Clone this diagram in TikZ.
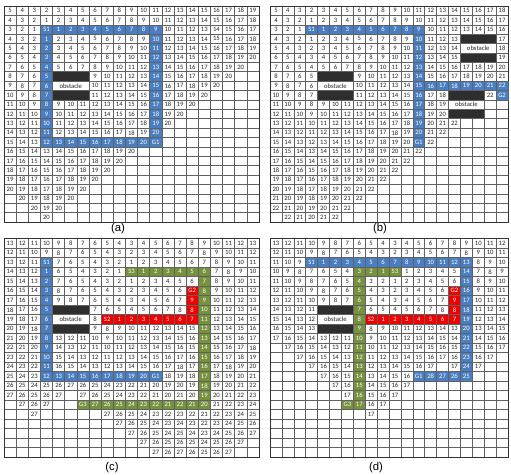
\documentclass[tikz,border=0pt]{standalone}
\usepackage{fontspec}
\setmainfont{Carlito}
\newfontfamily\labfont{Liberation Sans}
\definecolor{cblue}{HTML}{4A7EC2}
\definecolor{cred}{HTML}{F20000}
\definecolor{cgreen}{HTML}{76923C}
\definecolor{cobs}{HTML}{2E2E2E}
\def\dashmark{-}
\newif\ifskipcell
\tikzset{
  gl/.style={draw=black!62, line width=0.4pt},
  gborder/.style={draw=black!80, line width=0.6pt},
  num/.style={inner sep=0pt, font=\fontsize{5}{5}\selectfont, text=black!85},
  pnum/.style={inner sep=0pt, font=\fontsize{5}{5}\selectfont, text=white},
  bluecell/.style={fill=cblue, draw=black!62, line width=0.4pt},
  redcell/.style={fill=cred, draw=black!62, line width=0.4pt},
  greencell/.style={fill=cgreen, draw=black!62, line width=0.4pt},
  obsbar/.style={fill=cobs, draw=black!62, line width=0.4pt},
  obsmid/.style={fill=white, draw=black!62, line width=0.4pt},
  sublabel/.style={font=\labfont\fontsize{8.5}{9}\selectfont, inner sep=0pt},
}
% grid lines: x0,y0,w,h,ncols,nrows
\newcommand\gridlines[6]{%
  \foreach \i in {0,...,#5} \draw[gl] ({#1+\i*#3},#2) -- ({#1+\i*#3},{#2+#6*#4});
  \foreach \j in {0,...,#6} \draw[gl] (#1,{#2+\j*#4}) -- ({#1+#5*#3},{#2+\j*#4});
  \draw[gborder] (#1,#2) rectangle ({#1+#5*#3},{#2+#6*#4});
}
% data grid: prefix, rows
\newcommand\datagrid[2]{%
  \foreach \rowdata [count=\r] in {#2} {
    \foreach \v [count=\c] in \rowdata {
      \edef\tmpv{\v}%
      \ifx\tmpv\dashmark\else
        \node[num] (#1-\r-\c) at ({\GX+(\c-0.5)*\GW},{\GY+(\r-0.5)*\GH}) {\v};
      \fi
    }
  }
}
% manhattan grid from (3,4): prefix, ncols, nrows, cap, skip rectangles r1/r2/c1/c2
\newcommand\mgrid[5]{%
  \foreach \r in {1,...,#3} {
    \foreach \c in {1,...,#2} {
      \global\skipcellfalse
      \foreach \ra/\rb/\ca/\cb in {#5} {%
        \ifnum\r<\ra\else\ifnum\r>\rb\else\ifnum\c<\ca\else\ifnum\c>\cb\else\global\skipcelltrue\fi\fi\fi\fi
      }%
      \pgfmathtruncatemacro\mval{abs(\r-3)+abs(\c-4)}
      \ifskipcell\else
      \ifnum\mval>#4\relax\else
        \node[num] (#1-\r-\c) at ({\GX+(\c-0.5)*\GW},{\GY+(\r-0.5)*\GH}) {\mval};
      \fi\fi
    }
  }
}
% coloured path cells: prefix, style, list r/c/label
\newcommand\pcells[3]{%
  \foreach \r/\c/\lab in {#3} {
    \filldraw[#2] ({\GX+(\c-1)*\GW},{\GY+(\r-1)*\GH}) rectangle ({\GX+\c*\GW},{\GY+\r*\GH});
    \node[pnum] (#1-\r-\c) at ({\GX+(\c-0.5)*\GW},{\GY+(\r-0.5)*\GH}) {\lab};
  }
}
% obstacle 3x3: name, top row, left col
\newcommand\obst[3]{%
  \filldraw[obsbar] ({\GX+(#3-1)*\GW},{\GY+(#2-1)*\GH}) rectangle ({\GX+(#3+2)*\GW},{\GY+(#2)*\GH});
  \filldraw[obsmid] ({\GX+(#3-1)*\GW},{\GY+(#2)*\GH}) rectangle ({\GX+(#3+2)*\GW},{\GY+(#2+1)*\GH});
  \filldraw[obsbar] ({\GX+(#3-1)*\GW},{\GY+(#2+1)*\GH}) rectangle ({\GX+(#3+2)*\GW},{\GY+(#2+2)*\GH});
  \node[num] (#1) at ({\GX+(#3+0.5)*\GW},{\GY+(#2+0.5)*\GH}) {obstacle};
}
\begin{document}
\begin{tikzpicture}[x=0.75pt,y=-0.75pt]
\fill[white] (0,0) rectangle (511,475);
\useasboundingbox (0,0) rectangle (511,475);

% ================= (a)
\def\GX{4}\def\GY{6}\def\GW{12.14}\def\GH{9.39}
\gridlines{\GX}{\GY}{\GW}{\GH}{21}{23}
\mgrid{a}{21}{23}{20}{8/10/5/7,3/3/4/13,4/15/13/13,4/15/4/4,15/15/5/12}
\pcells{ap}{bluecell}{3/4/S1,3/5/1,3/6/2,3/7/3,3/8/4,3/9/5,3/10/6,3/11/7,3/12/8,3/13/9,
 4/13/10,5/13/11,6/13/12,7/13/13,8/13/14,9/13/15,10/13/16,11/13/17,12/13/18,13/13/19,14/13/20,15/13/G1,
 4/4/1,5/4/2,6/4/3,7/4/4,8/4/5,9/4/6,10/4/7,11/4/8,12/4/9,13/4/10,14/4/11,15/4/12,
 15/5/13,15/6/14,15/7/15,15/8/16,15/9/17,15/10/18,15/11/19,15/12/20}
\obst{aobs}{8}{5}
\node[sublabel] (la) at (118,229) {(a)};

% ================= (b)
\def\GX{270}\def\GY{6}\def\GW{11.9}\def\GH{9.39}
\gridlines{\GX}{\GY}{\GW}{\GH}{20}{23}
\mgrid{b}{20}{23}{22}{8/10/5/7,4/6/17/19,10/12/16/18,3/3/4/13,4/15/13/13,9/9/14/20,10/10/20/20}
\pcells{bp}{bluecell}{3/4/S1,3/5/1,3/6/2,3/7/3,3/8/4,3/9/5,3/10/6,3/11/7,3/12/8,3/13/9,
 4/13/10,5/13/11,6/13/12,7/13/13,8/13/14,9/13/15,10/13/16,11/13/17,12/13/18,13/13/19,14/13/20,15/13/G1,
 9/14/16,9/15/17,9/16/18,9/17/19,9/18/20,9/19/21,9/20/22,10/20/G2}
\obst{bobs1}{8}{5}
\obst{bobs2}{4}{17}
\obst{bobs3}{10}{16}
\node[sublabel] (lb) at (380,229) {(b)};

% ================= (c)
\def\GX{4}\def\GY{238.5}\def\GW{12.14}\def\GH{9.5}
\gridlines{\GX}{\GY}{\GW}{\GH}{21}{23}
\datagrid{c}{
{13,12,11,10,9,8,7,6,5,4,3,4,5,6,7,8,9,10,11,12,13},
{12,11,10,9,8,7,6,5,4,3,2,3,4,5,6,7,8,9,10,11,12},
{13,12,11,-,7,6,5,4,3,2,1,2,3,4,5,6,7,8,9,10,11},
{14,13,12,-,6,5,4,3,2,1,-,-,-,-,-,-,-,7,8,9,10},
{15,14,13,-,7,6,5,4,3,2,1,2,3,4,5,6,-,8,9,10,11},
{16,15,14,-,8,7,6,5,4,3,2,3,4,5,6,-,-,9,10,11,12},
{17,16,15,-,9,8,7,6,5,4,3,4,5,6,7,-,-,10,11,12,13},
{18,17,16,-,-,-,-,7,6,5,4,5,6,7,8,-,-,11,12,13,14},
{19,18,17,-,-,-,-,8,-,-,-,-,-,-,-,-,-,12,13,14,15},
{20,19,18,-,-,-,-,9,8,9,10,11,12,13,14,15,-,13,14,15,16},
{21,20,19,-,13,12,11,10,9,10,11,12,13,14,15,16,-,14,15,16,17},
{22,21,20,-,14,13,12,11,10,11,12,13,14,15,16,15,-,15,16,17,18},
{23,22,21,-,15,14,13,12,11,12,13,14,15,16,17,16,-,16,17,18,19},
{24,23,22,-,16,15,14,13,12,13,14,15,16,17,18,17,-,17,18,19,20},
{25,24,23,-,-,-,-,-,-,-,-,-,-,18,19,18,-,18,19,20,21},
{26,25,24,25,26,27,26,25,24,23,22,21,20,19,20,19,-,19,20,21,22},
{27,26,25,26,27,-,27,26,25,24,23,22,21,20,21,20,-,20,21,22,23},
{-,27,26,27,-,-,-,-,-,-,-,-,-,-,-,-,-,21,22,23,24},
{-,-,27,-,-,-,-,-,27,26,25,24,23,22,23,22,21,22,23,24,25},
{-,-,-,-,-,-,-,-,-,27,26,25,24,23,24,23,22,23,24,25,26},
{-,-,-,-,-,-,-,-,-,-,27,26,25,24,25,24,23,24,25,26,27},
{-,-,-,-,-,-,-,-,-,-,-,27,26,25,26,25,24,25,26,27,-},
{-,-,-,-,-,-,-,-,-,-,-,-,27,26,27,26,25,26,27,-,-}}
\pcells{cpb}{bluecell}{3/4/S1,4/4/1,5/4/2,6/4/3,7/4/4,8/4/5,9/4/6,10/4/7,11/4/8,12/4/9,13/4/10,14/4/11,15/4/12,
 15/5/13,15/6/14,15/7/15,15/8/16,15/9/17,15/10/18,15/11/19,15/12/20,15/13/G1}
\pcells{cpr}{redcell}{9/9/S2,9/10/1,9/11/2,9/12/3,9/13/4,9/14/5,9/15/6,9/16/7,8/16/8,7/16/9,6/16/G2}
\pcells{cpg}{greencell}{4/11/S3,4/12/1,4/13/2,4/14/3,4/15/4,4/16/5,4/17/6,
 5/17/7,6/17/8,7/17/9,8/17/10,9/17/11,10/17/12,11/17/13,12/17/14,13/17/15,14/17/16,15/17/17,16/17/18,17/17/19,18/17/20,
 18/16/21,18/15/22,18/14/21,18/13/22,18/12/23,18/11/24,18/10/25,18/9/26,18/8/27,18/7/G3}
\obst{cobs1}{8}{5}
\node[sublabel] (lc) at (112,468) {(c)};

% ================= (d)
\def\GX{270}\def\GY{238.5}\def\GW{11.9}\def\GH{9.5}
\gridlines{\GX}{\GY}{\GW}{\GH}{20}{23}
\datagrid{d}{
{13,12,11,10,9,8,7,6,5,4,3,4,5,6,7,8,9,10,11,12},
{12,11,10,9,8,7,6,5,4,3,2,3,4,5,6,7,8,9,10,11},
{11,10,9,-,-,-,-,-,-,-,-,-,-,-,-,-,-,8,9,10},
{10,9,8,7,6,5,4,-,-,-,-,1,2,3,4,5,-,7,8,9},
{11,10,9,8,7,6,5,-,3,2,1,2,3,4,5,6,-,8,9,10},
{12,11,10,9,8,7,6,-,4,3,2,3,4,5,6,-,-,9,10,11},
{13,12,11,10,9,8,7,-,5,4,3,4,5,6,7,-,-,10,11,12},
{14,13,12,11,-,-,-,-,6,5,4,5,6,7,8,-,-,11,12,13},
{15,14,13,12,-,-,-,-,-,-,-,-,-,-,-,-,-,12,13,14},
{16,15,14,13,-,-,-,-,8,9,10,11,12,13,14,13,-,13,14,15},
{17,16,15,14,13,12,11,-,9,10,11,12,13,14,15,14,-,14,15,16},
{-,17,16,15,14,13,12,-,10,11,12,13,14,15,16,15,-,15,16,17},
{-,-,17,16,15,14,13,-,11,12,13,14,15,16,17,16,-,16,17,-},
{-,-,-,17,16,15,14,-,12,13,14,15,16,17,-,17,-,17,-,-},
{-,-,-,-,17,16,15,-,13,14,15,16,-,-,-,-,-,-,-,-},
{-,-,-,-,-,17,16,-,14,15,16,17,-,-,-,-,-,-,-,-},
{-,-,-,-,-,-,17,-,15,16,17,-,-,-,-,-,-,-,-,-},
{-,-,-,-,-,-,-,-,16,17,-,-,-,-,-,-,-,-,-,-},
{-,-,-,-,-,-,-,-,17,-,-,-,-,-,-,-,-,-,-,-}}
\pcells{dpb}{bluecell}{3/4/S1,3/5/1,3/6/2,3/7/3,3/8/4,3/9/5,3/10/6,3/11/7,3/12/8,3/13/9,3/14/10,3/15/11,3/16/12,3/17/13,
 4/17/14,5/17/15,6/17/16,7/17/17,8/17/18,9/17/19,10/17/20,11/17/21,12/17/22,13/17/23,14/17/24,15/17/25,
 15/16/26,15/15/27,15/14/28,15/13/G1}
\pcells{dpr}{redcell}{9/9/S2,9/10/1,9/11/2,9/12/3,9/13/4,9/14/5,9/15/6,9/16/7,8/16/8,7/16/9,6/16/G2}
\pcells{dpg}{greencell}{4/11/S3,4/10/1,4/9/2,4/8/3,5/8/4,6/8/5,7/8/6,8/8/7,9/8/8,10/8/9,11/8/10,12/8/11,13/8/12,
 14/8/13,15/8/14,16/8/15,17/8/16,18/8/17,18/7/G3}
\obst{dobs1}{8}{5}
\node[sublabel] (ld) at (376,468) {(d)};
\end{tikzpicture}
\end{document}
